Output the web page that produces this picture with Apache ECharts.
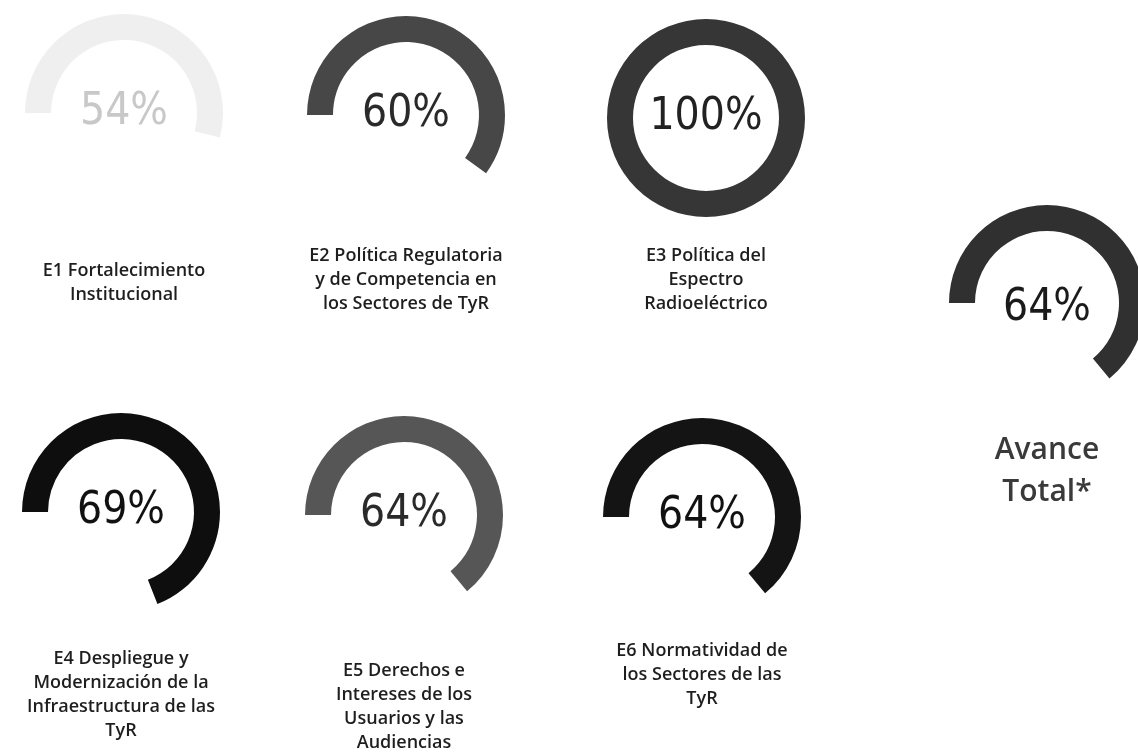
<!DOCTYPE html>
<html>
<head>
<meta charset="utf-8">
<script src="https://cdn.jsdelivr.net/npm/echarts@6/dist/echarts.min.js"></script>
<style>
  html, body { margin: 0; padding: 0; background: #fff; }
  #chart { width: 1138px; height: 756px; }
</style>
</head>
<body>
<div id="chart"></div>
<script>
// avance por eje estratégico (%)
const labels = [
    'E1 Fortalecimiento\nInstitucional',
    'E2 Política Regulatoria\ny de Competencia en\nlos Sectores de TyR',
    'E3 Política del\nEspectro\nRadioeléctrico',
    'E4 Despliegue y\nModernización de la\nInfraestructura de las\nTyR',
    'E5 Derechos e\nIntereses de los\nUsuarios y las\nAudiencias',
    'E6 Normatividad de\nlos Sectores de las\nTyR',
];
const values = [54, 60, 100, 69, 64, 64];
const totalLabel = 'Avance\nTotal*';
const totalValue = 64;

// layout: gauge centre (px) and label offset below the centre
const centers = [[124, 113], [406, 115], [706, 118], [121, 512], [404, 515], [702, 517]];
const labelOffsets = [170, 165, 162, 183, 192, 158];
const arcColors = ['#efefef', '#474747', '#363636', '#0e0e0e', '#565656', '#141414'];
const valueColors = ['#c8c8c8', '#2a2a2a', '#222', '#111', '#2a2a2a', '#111'];

const PCT_FONT = "'Liberation Sans Narrow', 'DejaVu Sans Condensed', sans-serif";
const LABEL_FONT = "'Open Sans', 'Noto Sans', sans-serif";

function gauge(name, value, center, radius, arcColor, valueColor, labelOffset, big) {
    return {
        type: 'gauge',
        center: center,
        radius: radius,
        startAngle: 180,
        endAngle: -180,
        min: 0,
        max: 100,
        pointer: { show: false },
        anchor: { show: false },
        axisLine: { show: false },
        axisTick: { show: false },
        splitLine: { show: false },
        axisLabel: { show: false },
        progress: {
            show: true,
            width: 26,
            roundCap: false,
            itemStyle: { color: arcColor },
        },
        title: {
            show: true,
            offsetCenter: [0, labelOffset],
            color: big ? '#3a3a3a' : '#1e1e1e',
            fontFamily: LABEL_FONT,
            fontSize: big ? 30 : 18,
            lineHeight: big ? 42 : 24,
            fontWeight: 600,
        },
        detail: {
            show: true,
            offsetCenter: [0, big ? 6 : 0],
            formatter: '{value}%',
            color: valueColor,
            fontFamily: PCT_FONT,
            fontSize: 44,
            fontWeight: 'normal',
        },
        data: [{ name: name, value: value }],
        animation: false,
    };
}

const series = labels.map((name, i) =>
    gauge(name, values[i], centers[i], 99, arcColors[i], valueColors[i], labelOffsets[i], false));
series.push(gauge(totalLabel, totalValue, [1047, 303], 98, '#303030', '#1a1a1a', 168, true));

const chart = echarts.init(document.getElementById('chart'));
chart.setOption({
    backgroundColor: '#fff',
    animation: false,
    series: series,
});
</script>
</body>
</html>
